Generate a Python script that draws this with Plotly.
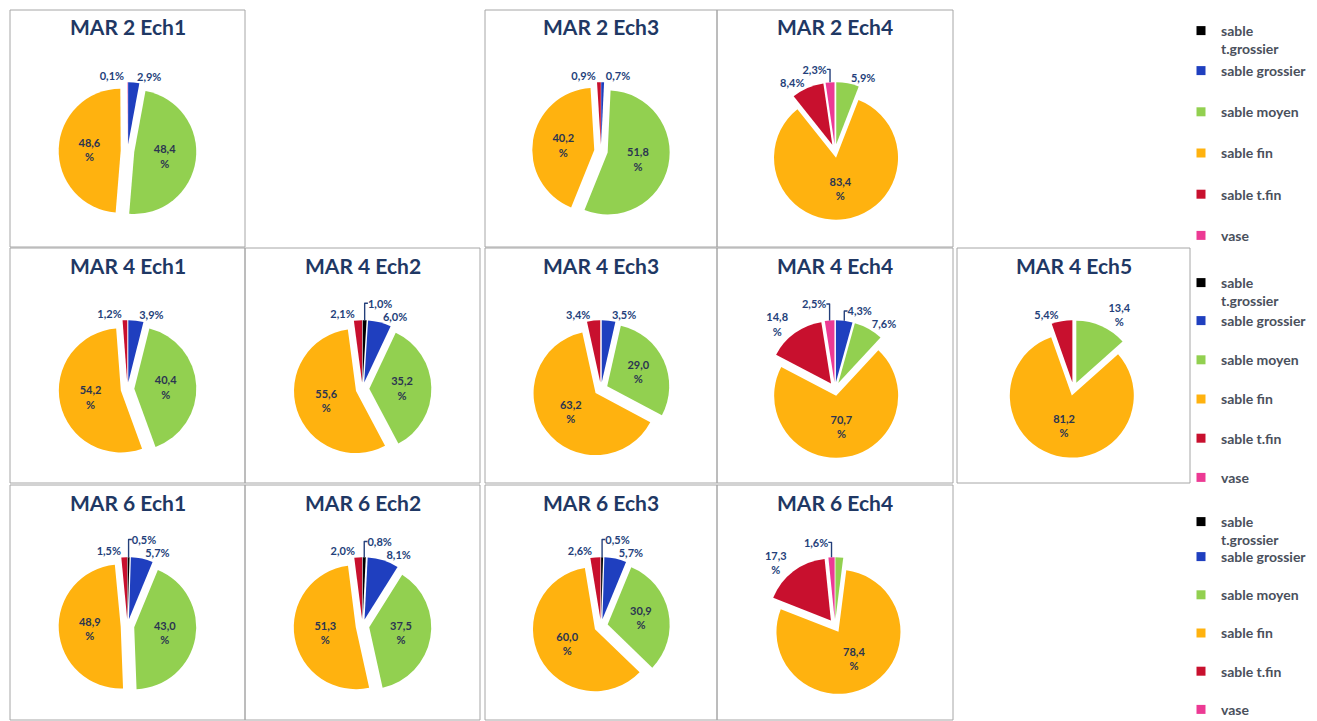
import plotly.graph_objects as go

# ---------------- data ----------------
categories = ["sable t.grossier", "sable grossier", "sable moyen", "sable fin", "sable t.fin", "vase"]
legend_names = ["sable<br>t.grossier", "sable grossier", "sable moyen", "sable fin", "sable t.fin", "vase"]

samples = ["MAR 2 Ech1", "MAR 2 Ech3", "MAR 2 Ech4",
           "MAR 4 Ech1", "MAR 4 Ech2", "MAR 4 Ech3", "MAR 4 Ech4", "MAR 4 Ech5",
           "MAR 6 Ech1", "MAR 6 Ech2", "MAR 6 Ech3", "MAR 6 Ech4"]

sable_t_grossier = [0, 0, 0, 0, 1.0, 0, 0, 0, 0.5, 0.8, 0.5, 0]
sable_grossier = [2.9, 0.7, 0, 3.9, 6.0, 3.5, 4.3, 0, 5.7, 8.1, 5.7, 0]
sable_moyen = [48.4, 51.8, 5.9, 40.4, 35.2, 29.0, 7.6, 13.4, 43.0, 37.5, 30.9, 2.0]
sable_fin = [48.6, 40.2, 83.4, 54.2, 55.6, 63.2, 70.7, 81.2, 48.9, 51.3, 60.0, 78.4]
sable_t_fin = [0, 0.9, 8.4, 1.2, 2.1, 3.4, 14.8, 5.4, 1.5, 2.0, 2.6, 17.3]
vase = [0.1, 0, 2.3, 0, 0, 0, 2.5, 0, 0, 0, 0, 1.6]

unlabeled = [("MAR 6 Ech4", "sable moyen")]

# ---------------- style / layout ----------------
W, H = 1317, 721
colors = ["#000000", "#1F3FBF", "#92D050", "#FFB20F", "#C8102E", "#EC3A94"]
FONT = "Lato"
cells = [(0, 0), (0, 2), (0, 3),
         (1, 0), (1, 1), (1, 2), (1, 3), (1, 4),
         (2, 0), (2, 1), (2, 2), (2, 3)]
col_x = [(10, 245), (245, 480), (485, 717), (717, 953), (957, 1190)]
row_y = [(10, 247), (248, 483), (485, 720)]
R = 62
PULL = 0.11

series = [sable_t_grossier, sable_grossier, sable_moyen, sable_fin, sable_t_fin, vase]


def fmt(v):
    s = f"{v:.1f}".replace(".", ",")
    return s + ("<br>%" if v >= 10 else "%")


fig = go.Figure()
shapes = []
annotations = []

for k, name in enumerate(samples):
    r, c = cells[k]
    x0, x1 = col_x[c]
    y0, y1 = row_y[r]
    cx = (x0 + x1) / 2
    cy = y0 + 141
    half = R * (1 + PULL)
    vals = [s[k] for s in series]
    texts, pos = [], []
    for cat, v in zip(categories, vals):
        if v <= 0 or (name, cat) in unlabeled:
            texts.append("")
            pos.append("none")
        else:
            texts.append(fmt(v))
            pos.append("inside" if v >= 20 else "outside")
    fig.add_trace(go.Pie(
        labels=categories, values=vals, sort=False, direction="clockwise", rotation=0,
        pull=[PULL] * len(vals),
        marker=dict(colors=colors, line=dict(width=0)),
        text=texts, textinfo="text", textposition=pos,
        insidetextorientation="horizontal",
        insidetextfont=dict(family=FONT, size=11, color="#2B3550", weight="bold"),
        outsidetextfont=dict(family=FONT, size=11, color="#243F7A", weight="bold"),
        showlegend=False, hoverinfo="label+value",
        domain=dict(x=[(cx - half) / W, (cx + half) / W],
                    y=[1 - (cy + half) / H, 1 - (cy - half) / H]),
    ))
    shapes.append(dict(type="rect", xref="paper", yref="paper",
                       x0=x0 / W, x1=x1 / W, y0=1 - y1 / H, y1=1 - y0 / H,
                       line=dict(color="#A6A6A6", width=1)))
    annotations.append(dict(text=name, xref="paper", yref="paper", x=cx / W, y=1 - (y0 + 17) / H,
                            xanchor="center", yanchor="middle", showarrow=False,
                            font=dict(family=FONT, size=21, color="#1F3864", weight="bold")))

# legends: per row, the first (two-line) entry and the remaining entries
legend_keys = ["legend", "legend2", "legend3", "legend4", "legend5", "legend6"]
for row in range(3):
    for i, (lab, col) in enumerate(zip(legend_names, colors)):
        lk = legend_keys[2 * row + (0 if i == 0 else 1)]
        fig.add_trace(go.Scatter(x=[None], y=[None], mode="markers", name=lab,
                                 marker=dict(symbol="square", size=9, color=col),
                                 legend=lk, legendgroup=f"{lk}_{i}", showlegend=True,
                                 hoverinfo="skip"))

legend_tops = [15, 55, 267, 305, 506, 541]
legend_gaps = [0, 20, 0, 18, 0, 17]
leg_common = dict(x=1181 / W, xanchor="left", yanchor="top", bgcolor="rgba(0,0,0,0)",
                  font=dict(family=FONT, size=14, color="#4A505C", weight="bold"), valign="top",
                  itemwidth=30, itemclick=False, itemdoubleclick=False)
layout_legends = {}
for lk, t, g in zip(legend_keys, legend_tops, legend_gaps):
    layout_legends[lk] = dict(leg_common, y=1 - t / H, tracegroupgap=g)

fig.update_layout(
    width=W, height=H, margin=dict(l=0, r=0, t=0, b=0, autoexpand=False),
    paper_bgcolor="white", plot_bgcolor="white",
    xaxis=dict(visible=False), yaxis=dict(visible=False),
    shapes=shapes, annotations=annotations,
    **layout_legends,
)

fig.write_html("out.html")
